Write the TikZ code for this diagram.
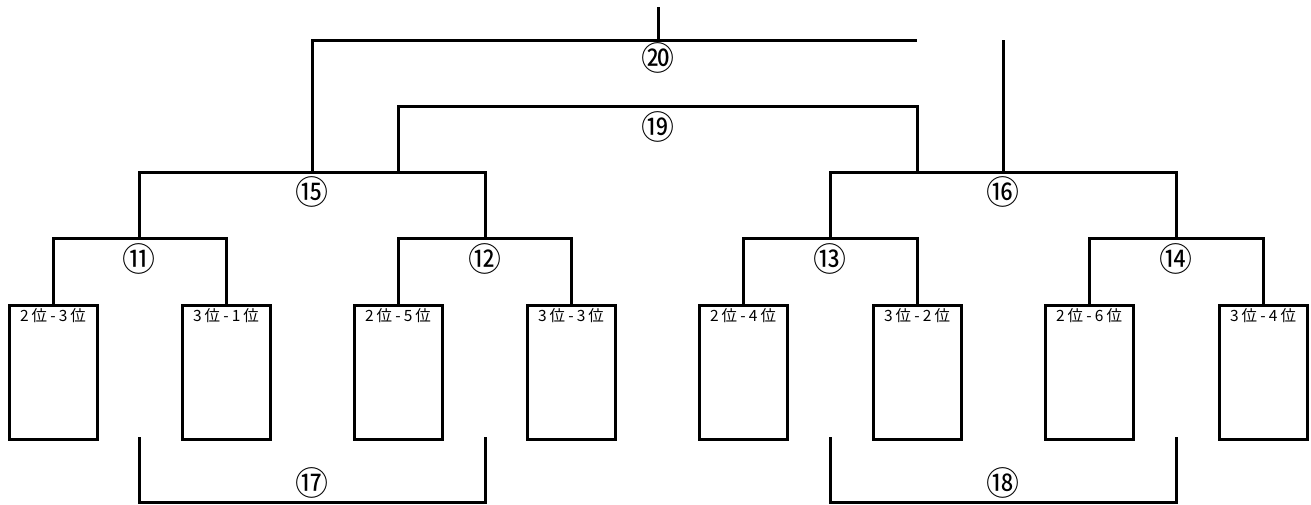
\documentclass[tikz,border=0pt]{standalone}
\usepackage{fontspec}
\setmainfont{Noto Sans CJK JP}
\usetikzlibrary{positioning}

\begin{document}
\begin{tikzpicture}[
    x=1pt, y=-1pt,
    line width=3pt,
    team/.style={draw, anchor=north, minimum width=88pt, inner xsep=0pt, inner ysep=1.5pt,
        text height=14pt, text depth=117pt,
        font=\fontsize{15.5}{15.5}\selectfont\addfontfeature{LetterSpace=20}},
    num/.style={inner sep=0pt, font=\fontsize{33}{33}\selectfont}
]
\useasboundingbox (0,0) rectangle (1311,504);

% Teams
\foreach \i/\x/\t in {1/53/2位-3位, 2/226/3位-1位, 3/398/2位-5位, 4/571/3位-3位,
                       5/743/2位-4位, 6/917/3位-2位, 7/1089/2位-6位, 8/1263/3位-4位} {
    \node[team] (b\i) at (\x,304) {\t};
}

% Junctions
\coordinate (j11) at (139,238);
\coordinate (j12) at (485,238);
\coordinate (j13) at (830,238);
\coordinate (j14) at (1176,238);
\coordinate (j15) at (312,172);
\coordinate (j16) at (1003,172);
\coordinate (s15) at (398,172);
\coordinate (s16) at (917,172);
\coordinate (j19) at (658,106);
\coordinate (j20) at (658,40);
\coordinate (e20) at (917,40);
\coordinate (f20) at (1003,40);
\coordinate (top) at (658,7);

% First round
\draw (b1.north) |- (j11) -| (b2.north);
\draw (b3.north) |- (j12) -| (b4.north);
\draw (b5.north) |- (j13) -| (b6.north);
\draw (b7.north) |- (j14) -| (b8.north);

% Second round
\draw (j11) |- (j15) -| (j12);
\draw (j13) |- (j16) -| (j14);

% 19 and 20
\draw (s15) |- (j19) -| (s16);
\draw (j15) |- (j20) -- (e20);
\draw (j20) -- (top);
\draw (j16) -- (f20);

% Lower brackets
\coordinate (a17) at (139,437);
\coordinate (c17) at (485,437);
\coordinate (m17) at (312,502);
\coordinate (a18) at (830,437);
\coordinate (c18) at (1176,437);
\coordinate (m18) at (1003,502);
\draw (a17) |- (m17) -| (c17);
\draw (a18) |- (m18) -| (c18);

% Labels
\node[num, below=4pt of j11] (n11) {⑪};
\node[num, below=4pt of j12] (n12) {⑫};
\node[num, below=4pt of j13] (n13) {⑬};
\node[num, below=4pt of j14] (n14) {⑭};
\node[num, below=3pt of j15] (n15) {⑮};
\node[num, below=3pt of j16] (n16) {⑯};
\node[num, below=4pt of j19] (n19) {⑲};
\node[num, below=1pt of j20] (n20) {⑳};
\node[num, above=2pt of m17] (n17) {⑰};
\node[num, above=2pt of m18] (n18) {⑱};

\end{tikzpicture}
\end{document}
